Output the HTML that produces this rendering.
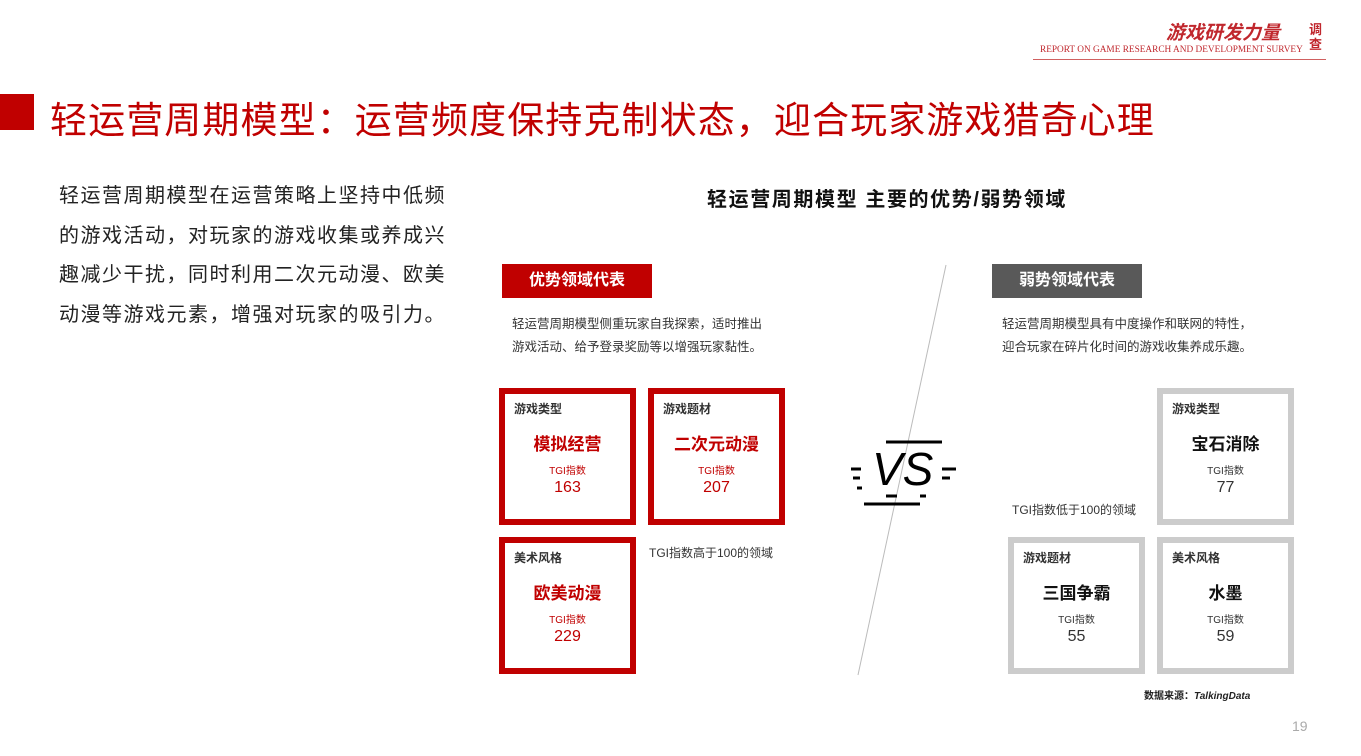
<!DOCTYPE html>
<html><head><meta charset="utf-8"><style>
body{margin:0;width:1361px;height:756px;position:relative;background:#fff;font-family:"Liberation Sans","Noto Sans CJK SC",sans-serif;overflow:hidden}
.a{position:absolute;white-space:nowrap}
.box{position:absolute;width:125px;height:125px;border:6px solid #c00000;background:#fff}
.g{border-color:#cccccc}
.box .t{position:absolute;left:9px;top:6px;font-size:12px;font-weight:bold;color:#333}
.box .n{position:absolute;left:0;right:0;top:36px;text-align:center;font-size:17px;font-weight:bold;color:#c00000}
.box .k{position:absolute;left:0;right:0;top:68px;text-align:center;font-size:10px;color:#c00000}
.box .v{position:absolute;left:0;right:0;top:85px;text-align:center;font-size:16px;color:#c00000}
.g .n{color:#111}.g .k,.g .v{color:#333}
</style></head><body>
<div class="a" style="left:1166px;top:18px;font-size:19px;font-weight:bold;font-style:italic;color:#c0272d">游戏研发力量</div>
<div class="a" style="left:1309px;top:22px;font-size:13px;font-weight:bold;color:#c0272d;line-height:15px;white-space:normal;width:14px">调查</div>
<div class="a" style="left:1040px;top:45px;font-family:'Liberation Serif',serif;font-size:9.3px;color:#c0272d">REPORT ON GAME RESEARCH AND DEVELOPMENT SURVEY</div>
<div class="a" style="left:1033px;top:59px;width:293px;height:1px;background:#d06060"></div>
<div class="a" style="left:0;top:94px;width:34px;height:36px;background:#c00000"></div>
<div class="a" style="left:50px;top:90px;font-size:37px;letter-spacing:1.1px;color:#c00000">轻运营周期模型：运营频度保持克制状态，迎合玩家游戏猎奇心理</div>
<div class="a" style="left:59px;top:177px;font-size:20px;letter-spacing:1.5px;line-height:39.5px;color:#222;white-space:normal;width:400px">轻运营周期模型在运营策略上坚持中低频的游戏活动，对玩家的游戏收集或养成兴趣减少干扰，同时利用二次元动漫、欧美动漫等游戏元素，增强对玩家的吸引力。</div>
<div class="a" style="left:707px;top:183px;font-size:20px;letter-spacing:1.6px;font-weight:bold;color:#111">轻运营周期模型 主要的优势/弱势领域</div>
<div class="a" style="left:502px;top:264px;width:150px;height:34px;background:#c00000;color:#fff;font-size:16px;font-weight:bold;line-height:34px;text-align:center">优势领域代表</div>
<div class="a" style="left:992px;top:264px;width:150px;height:34px;background:#595959;color:#fff;font-size:16px;font-weight:bold;line-height:34px;text-align:center">弱势领域代表</div>
<div class="a" style="left:512px;top:313px;font-size:12.5px;line-height:23px;color:#333">轻运营周期模型侧重玩家自我探索，适时推出<br>游戏活动、给予登录奖励等以增强玩家黏性。</div>
<div class="a" style="left:1002px;top:313px;font-size:12.5px;line-height:23px;color:#333">轻运营周期模型具有中度操作和联网的特性，<br>迎合玩家在碎片化时间的游戏收集养成乐趣。</div>
<svg class="a" style="left:0;top:0" width="1361" height="756">
<line x1="946" y1="265" x2="858" y2="675" stroke="#bbb" stroke-width="1"/>
<g stroke="#000" stroke-width="3">
<line x1="886" y1="442" x2="942" y2="442"/><line x1="864" y1="504" x2="920" y2="504"/>
<line x1="851" y1="469" x2="861" y2="469"/><line x1="853" y1="478" x2="860" y2="478"/><line x1="857" y1="488" x2="862" y2="488"/>
<line x1="942" y1="469" x2="956" y2="469"/><line x1="942" y1="478" x2="950" y2="478"/>
<line x1="886" y1="496" x2="897" y2="496"/><line x1="920" y1="496" x2="926" y2="496"/>
</g>
<text x="872" y="485" font-family="Liberation Sans" font-style="italic" font-size="46" fill="#000">VS</text>
</svg>
<div class="box" style="left:499px;top:388px"><div class="t">游戏类型</div><div class="n">模拟经营</div><div class="k">TGI指数</div><div class="v">163</div></div>
<div class="box" style="left:648px;top:388px"><div class="t">游戏题材</div><div class="n">二次元动漫</div><div class="k">TGI指数</div><div class="v">207</div></div>
<div class="box" style="left:499px;top:537px"><div class="t">美术风格</div><div class="n">欧美动漫</div><div class="k">TGI指数</div><div class="v">229</div></div>
<div class="a" style="left:649px;top:544px;font-size:12px;color:#333">TGI指数高于100的领域</div>
<div class="box g" style="left:1157px;top:388px"><div class="t">游戏类型</div><div class="n">宝石消除</div><div class="k">TGI指数</div><div class="v">77</div></div>
<div class="box g" style="left:1008px;top:537px"><div class="t">游戏题材</div><div class="n">三国争霸</div><div class="k">TGI指数</div><div class="v">55</div></div>
<div class="box g" style="left:1157px;top:537px"><div class="t">美术风格</div><div class="n">水墨</div><div class="k">TGI指数</div><div class="v">59</div></div>
<div class="a" style="left:1012px;top:501px;font-size:12px;color:#333">TGI指数低于100的领域</div>
<div class="a" style="left:1144px;top:687px;font-size:10px;font-weight:bold;color:#222">数据来源：<i>TalkingData</i></div>
<div class="a" style="left:1292px;top:718px;font-size:14px;color:#aaa">19</div>
</body></html>
